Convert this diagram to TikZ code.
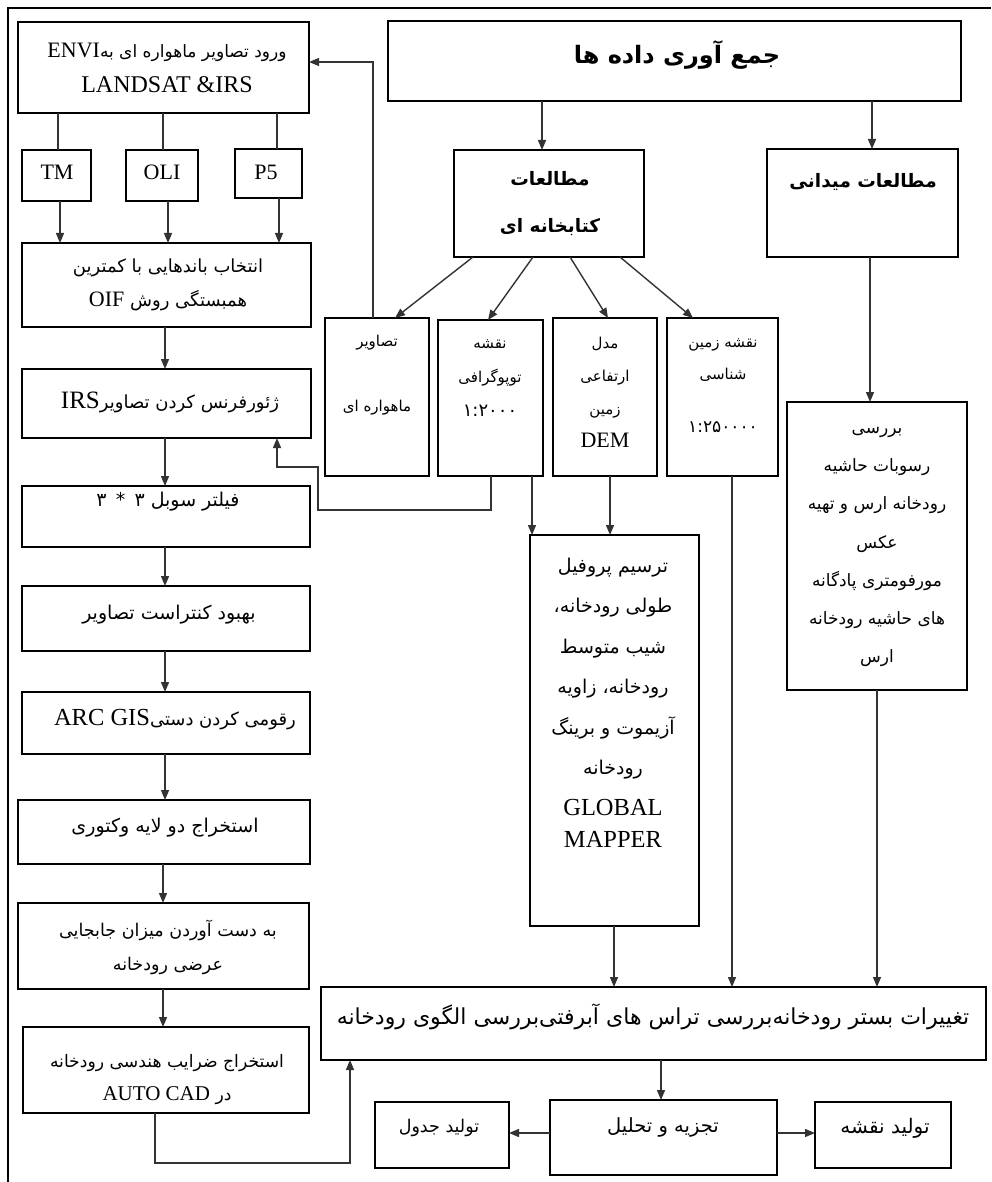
\documentclass[tikz,border=0pt]{standalone}
\usepackage{fontspec}
\setmainfont{Liberation Serif}
\newfontfamily\arfont[Script=Arabic]{DejaVu Sans}
\newfontfamily\latfont{Liberation Serif}
\TeXXeTstate=1
\usetikzlibrary{arrows.meta}
\newcommand\fa[1]{{\arfont\beginR #1\endR}}
\newcommand\la[2][22]{\beginL{\latfont\fontsize{#1}{#1}\selectfont #2}\endL}
\newcommand\dg[2][18]{{\arfont\fontsize{#1}{#1}\selectfont #2}}
\newcommand\bx[5]{\node[box, minimum width={#4-#2}, minimum height={#5-#3}] (#1) at ({(#2+#4)/2},{(#3+#5)/2}) {};}
\tikzset{
  box/.style={draw=black, line width=1.8pt, inner sep=0pt, outer sep=0pt},
  conn/.style={draw=black!80, line width=1.4pt},
  arr/.style={conn, -{Triangle[width=8pt,length=10pt]}},
  txt/.style={inner sep=0pt, align=center, font=\fontsize{18}{34}\selectfont},
  sm/.style={font=\fontsize{15}{34}\selectfont},
  hdr/.style={inner sep=0pt, align=center, font=\fontsize{18.5}{47}\selectfont\bfseries},
}
\begin{document}
\begin{tikzpicture}[x=1pt,y=-1pt]
\useasboundingbox (0,0) rectangle (991,1182);
% frame
\draw[line width=2.5pt] (8,1182) -- (8,8) -- (991,8);
% boxes
\bx{envi}{18}{22}{309}{113}
\bx{tm}{22}{150}{91}{201}
\bx{oli}{126}{150}{198}{201}
\bx{pf}{235}{149}{302}{198}
\bx{sel}{22}{243}{311}{327}
\bx{grf}{22}{369}{311}{438}
\bx{sob}{22}{486}{310}{547}
\bx{con}{22}{586}{310}{651}
\bx{arc}{22}{692}{310}{754}
\bx{vec}{18}{800}{310}{864}
\bx{jab}{18}{903}{309}{989}
\bx{cad}{23}{1027}{309}{1113}
\bx{col}{388}{21}{961}{101}
\bx{lib}{454}{150}{644}{257}
\bx{fld}{767}{149}{958}{257}
\bx{sat}{325}{318}{429}{476}
\bx{topo}{438}{320}{543}{476}
\bx{dem}{553}{318}{657}{476}
\bx{geol}{667}{318}{778}{476}
\bx{rev}{787}{402}{967}{690}
\bx{glob}{530}{535}{699}{926}
\bx{big}{321}{987}{986}{1060}
\bx{taj}{550}{1100}{777}{1175}
\bx{jad}{375}{1102}{509}{1168}
\bx{naq}{815}{1102}{951}{1168}
% texts
\node[txt, font=\fontsize{17}{35}\selectfont] (t-envi) at (167,68) {\fa{ورود تصاویر ماهواره ای به\la{ENVI}}\\\la[24]{LANDSAT \&IRS}};
\node[txt] (t-tm) at (57,172) {\la{TM}};
\node[txt] (t-oli) at (162,172) {\la{OLI}};
\node[txt] (t-pf) at (266,172) {\la{P5}};
\node[txt] (t-sel) at (168,285) {\fa{انتخاب باندهایی با کمترین}\\\fa{همبستگی روش \la{OIF}}};
\node[txt] (t-grf) at (170,402) {\fa{ژئورفرنس کردن تصاویر\la[25]{IRS}}};
\node[txt, font=\fontsize{19}{34}\selectfont] (t-sob) at (168,502) {\fa{فیلتر سوبل ۳ \,*\, ۳}};
\node[txt, font=\fontsize{19}{34}\selectfont] (t-con) at (169,615) {\fa{بهبود کنتراست تصاویر}};
\node[txt] (t-arc) at (175,720) {\fa{رقومی کردن دستی\la[24.5]{ARC GIS}}};
\node[txt, font=\fontsize{19}{34}\selectfont] (t-vec) at (165,828) {\fa{استخراج دو لایه وکتوری}};
\node[txt, font=\fontsize{17.5}{34}\selectfont] (t-jab) at (168,947) {\fa{به دست آوردن میزان جابجایی}\\\fa{عرضی رودخانه}};
\node[txt, font=\fontsize{17.2}{33}\selectfont] (t-cad) at (167,1080) {\fa{استخراج ضرایب هندسی رودخانه}\\\fa{در \la[21]{AUTO CAD}}};
\node[hdr, font=\fontsize{24}{47}\selectfont\bfseries] (t-col) at (677,55) {\fa{جمع آوری داده ها}};
\node[hdr] (t-lib) at (550,204) {\fa{مطالعات}\\\fa{کتابخانه ای}};
\node[hdr] (t-fld) at (863,182) {\fa{مطالعات میدانی}};
\node[txt, sm, font=\fontsize{15}{65}\selectfont] (t-sat) at (377,375) {\fa{تصاویر}\\\fa{ماهواره ای}};
\node[txt, sm] (t-topo) at (490,378) {\fa{نقشه}\\\fa{توپوگرافی}\\\dg{۱:۲۰۰۰}};
\node[txt, sm, font=\fontsize{15}{33}\selectfont] (t-dem) at (605,392) {\fa{مدل}\\\fa{ارتفاعی}\\\fa{زمین}\\\la{DEM}};
\node[txt, sm, font=\fontsize{15}{32}\selectfont] (t-geol) at (723,386) {\fa{نقشه زمین}\\\fa{شناسی}\\[21pt]\dg[17]{۱:۲۵۰۰۰۰}};
\node[txt, font=\fontsize{17}{38.3}\selectfont] (t-rev) at (877,547) {\fa{بررسی}\\\fa{رسوبات حاشیه}\\\fa{رودخانه ارس و تهیه}\\\fa{عکس}\\\fa{مورفومتری پادگانه}\\\fa{های حاشیه رودخانه}\\\fa{ارس}};
\node[txt, font=\fontsize{19}{40.5}\selectfont] (t-glob) at (613,703) {\fa{ترسیم پروفیل}\\\fa{طولی رودخانه،}\\\fa{شیب متوسط}\\\fa{رودخانه، زاویه}\\\fa{آزیموت و برینگ}\\\fa{رودخانه}\\\la[24.5]{GLOBAL}\\[-8pt]\la[24.5]{MAPPER}};
\node[txt, font=\fontsize{22}{34}\selectfont] (t-big) at (653,1017) {\fa{تغییرات بستر رودخانه‌بررسی تراس های آبرفتی‌بررسی الگوی رودخانه}};
\node[txt, font=\fontsize{19.5}{34}\selectfont] (t-taj) at (663,1127) {\fa{تجزیه و تحلیل}};
\node[txt, font=\fontsize{17.5}{34}\selectfont] (t-jad) at (439,1128) {\fa{تولید جدول}};
\node[txt, font=\fontsize{20}{34}\selectfont] (t-naq) at (885,1128) {\fa{تولید نقشه}};
% helper coordinates
\coordinate (x58) at (58,0);
\coordinate (x60) at (60,0);
\coordinate (x163) at (163,0);
\coordinate (x168) at (168,0);
\coordinate (x277) at (277,0);
\coordinate (x279) at (279,0);
\coordinate (x165) at (165,0);
\coordinate (x542) at (542,0);
\coordinate (x872) at (872,0);
\coordinate (x473) at (473,0);
\coordinate (x395) at (395,0);
\coordinate (x533) at (533,0);
\coordinate (x488) at (488,0);
\coordinate (x570) at (570,0);
\coordinate (x608) at (608,0);
\coordinate (x620) at (620,0);
\coordinate (x693) at (693,0);
\coordinate (x532) at (532,0);
\coordinate (x610) at (610,0);
\coordinate (x732) at (732,0);
\coordinate (x614) at (614,0);
\coordinate (x870) at (870,0);
\coordinate (x877) at (877,0);
\coordinate (x661) at (661,0);
\coordinate (y1133) at (0,1133);
\coordinate (fb1) at (373,62);
\coordinate (k1) at (491,510);
\coordinate (k2) at (318,467);
\coordinate (k3) at (277,467);
\coordinate (k4) at (155,1163);
\coordinate (k5) at (350,1163);
% connectors
\draw[conn] (envi.south -| x58) -- (tm.north -| x58);
\draw[conn] (envi.south -| x163) -- (oli.north -| x163);
\draw[conn] (envi.south -| x277) -- (pf.north -| x277);
\draw[arr] (tm.south -| x60) -- (sel.north -| x60);
\draw[arr] (oli.south -| x168) -- (sel.north -| x168);
\draw[arr] (pf.south -| x279) -- (sel.north -| x279);
\draw[arr] (sel.south -| x165) -- (grf.north -| x165);
\draw[arr] (grf.south -| x165) -- (sob.north -| x165);
\draw[arr] (sob.south -| x165) -- (con.north -| x165);
\draw[arr] (con.south -| x165) -- (arc.north -| x165);
\draw[arr] (arc.south -| x165) -- (vec.north -| x165);
\draw[arr] (vec.south -| x163) -- (jab.north -| x163);
\draw[arr] (jab.south -| x163) -- (cad.north -| x163);
\draw[arr] (col.south -| x542) -- (lib.north -| x542);
\draw[arr] (col.south -| x872) -- (fld.north -| x872);
\draw[arr] (lib.south -| x473) -- (sat.north -| x395);
\draw[arr] (lib.south -| x533) -- (topo.north -| x488);
\draw[arr] (lib.south -| x570) -- (dem.north -| x608);
\draw[arr] (lib.south -| x620) -- (geol.north -| x693);
\draw[arr] (sat.north -| fb1) -- (fb1) -- (envi.east |- fb1);
\draw[arr] (topo.south -| k1) -- (k1) -- (k1 -| k2) -- (k2) -- (k3) -- (grf.south -| k3);
\draw[arr] (topo.south -| x532) -- (glob.north -| x532);
\draw[arr] (dem.south -| x610) -- (glob.north -| x610);
\draw[arr] (geol.south -| x732) -- (big.north -| x732);
\draw[arr] (glob.south -| x614) -- (big.north -| x614);
\draw[arr] (fld.south -| x870) -- (rev.north -| x870);
\draw[arr] (rev.south -| x877) -- (big.north -| x877);
\draw[arr] (cad.south -| k4) -- (k4) -- (k5) -- (big.south -| k5);
\draw[arr] (big.south -| x661) -- (taj.north -| x661);
\draw[arr] (taj.west |- y1133) -- (jad.east |- y1133);
\draw[arr] (taj.east |- y1133) -- (naq.west |- y1133);
\end{tikzpicture}
\end{document}
